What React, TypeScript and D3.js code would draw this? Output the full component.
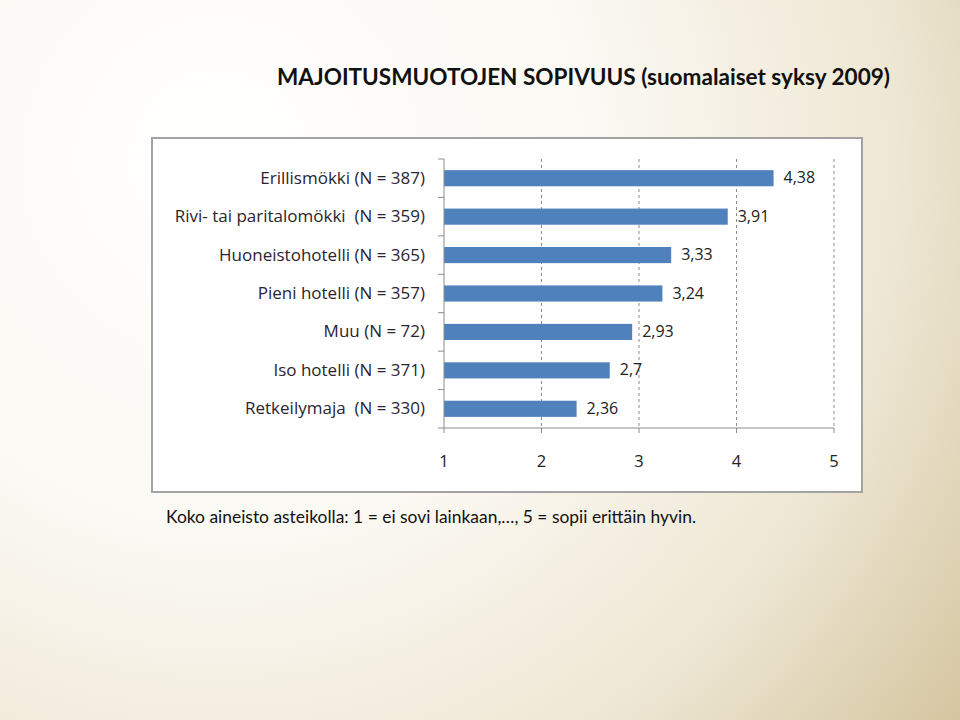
import * as d3 from "d3";

const W = 960;
const H = 720;

const categories = [
  "Erillismökki (N = 387)",
  "Rivi- tai paritalomökki  (N = 359)",
  "Huoneistohotelli (N = 365)",
  "Pieni hotelli (N = 357)",
  "Muu (N = 72)",
  "Iso hotelli (N = 371)",
  "Retkeilymaja  (N = 330)",
];
const values = [4.38, 3.91, 3.33, 3.24, 2.93, 2.7, 2.36];
const xTicks = [1, 2, 3, 4, 5];

const TITLE = "MAJOITUSMUOTOJEN SOPIVUUS (suomalaiset syksy 2009)";
const NOTE = "Koko aineisto asteikolla: 1 = ei sovi lainkaan,…, 5 = sopii erittäin hyvin.";

const FONT = "Lato, 'Open Sans', sans-serif";
const CHART_FONT = "'Open Sans', Lato, sans-serif";
const BAR = "#4f81bd";
const AXIS = "#8c8c8c";

// plot area inside the chart frame
const PLOT = { left: 444, right: 834, top: 159, bottom: 428 };

const fmt = (v: number) => String(v).replace(".", ",");

export default function App() {
  const x = d3.scaleLinear().domain([1, 5]).range([PLOT.left, PLOT.right]);
  const y = d3
    .scaleBand<string>()
    .domain(categories)
    .range([PLOT.top, PLOT.bottom])
    .paddingInner(0.58)
    .paddingOuter(0.29);
  // band boundaries for the category tick marks
  const bounds = d3
    .range(categories.length + 1)
    .map((i) => PLOT.top + i * ((PLOT.bottom - PLOT.top) / categories.length));
  const mid = (c: string) => (y(c) ?? 0) + y.bandwidth() / 2 - 1;

  return (
    <div style={{ position: "absolute", left: 0, top: 0 }}>
      <svg width={W} height={H} style={{ display: "block" }}>
        <defs>
          <radialGradient id="bg" gradientUnits="userSpaceOnUse" cx={220} cy={160} r={940}>
            <stop offset="0" stopColor="#ffffff" />
            <stop offset="0.4" stopColor="#fbf9f3" />
            <stop offset="0.72" stopColor="#eee7d4" />
            <stop offset="1" stopColor="#d3c49d" />
          </radialGradient>
        </defs>
        <rect width={W} height={H} fill="url(#bg)" />

        <text
          x={277}
          y={85}
          fontFamily={FONT}
          fontWeight={700}
          fontSize={22}
          fill="#111"
          textLength={613}
          lengthAdjust="spacingAndGlyphs"
        >
          {TITLE}
        </text>

        {/* chart frame */}
        <rect x={152} y={138} width={710} height={354} fill="#ffffff" stroke="#a3a3a3" strokeWidth={2} />

        {/* dashed gridlines */}
        {xTicks.slice(1).map((t) => (
          <line
            key={`g${t}`}
            x1={x(t)}
            x2={x(t)}
            y1={PLOT.top}
            y2={PLOT.bottom}
            stroke={AXIS}
            strokeDasharray="3,3"
          />
        ))}

        {/* bars */}
        {categories.map((c, i) => (
          <rect
            key={c}
            x={x(1)}
            y={y(c)}
            width={x(values[i]) - x(1)}
            height={y.bandwidth()}
            fill={BAR}
          />
        ))}

        {/* value labels */}
        {categories.map((c, i) => (
          <text
            key={`v${c}`}
            x={x(values[i]) + 10}
            y={mid(c)}
            dominantBaseline="central"
            fontFamily={CHART_FONT}
            fontSize={16}
            fill="#222"
          >
            {fmt(values[i])}
          </text>
        ))}

        {/* category axis */}
        <line x1={PLOT.left} x2={PLOT.left} y1={PLOT.top} y2={PLOT.bottom} stroke={AXIS} />
        {bounds.map((b, i) => (
          <line key={`t${i}`} x1={PLOT.left - 6} x2={PLOT.left} y1={b} y2={b} stroke={AXIS} />
        ))}
        {categories.map((c) => (
          <text
            key={`l${c}`}
            x={425}
            y={mid(c)}
            textAnchor="end"
            dominantBaseline="central"
            fontFamily={CHART_FONT}
            fontSize={17}
            fill="#2b2430"
            style={{ whiteSpace: "pre" }}
          >
            {c}
          </text>
        ))}

        {/* value axis */}
        <line x1={PLOT.left} x2={PLOT.right} y1={PLOT.bottom} y2={PLOT.bottom} stroke={AXIS} />
        {xTicks.map((t) => (
          <g key={`x${t}`}>
            <line x1={x(t)} x2={x(t)} y1={PLOT.bottom} y2={PLOT.bottom + 5} stroke={AXIS} />
            <text
              x={x(t)}
              y={PLOT.bottom + 32}
              textAnchor="middle"
              dominantBaseline="central"
              fontFamily={CHART_FONT}
              fontSize={16.5}
              fill="#222"
            >
              {t}
            </text>
          </g>
        ))}

        <text
          x={166}
          y={523}
          fontFamily={FONT}
          fontSize={17}
          fill="#111"
          textLength={530}
          lengthAdjust="spacingAndGlyphs"
        >
          {NOTE}
        </text>
      </svg>
    </div>
  );
}
